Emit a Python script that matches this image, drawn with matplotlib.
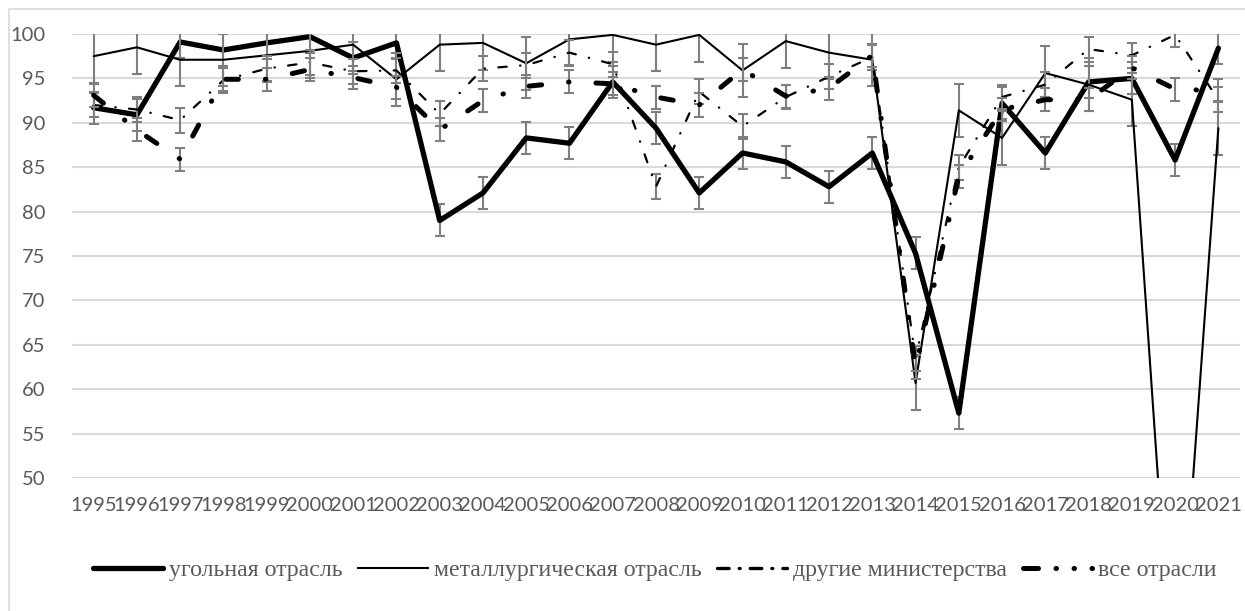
import matplotlib.pyplot as plt
from matplotlib.lines import Line2D
from matplotlib.patches import Rectangle

years = [str(y) for y in range(1995, 2022)]

coal = [91.7, 90.9, 99.1, 98.2, 99.0, 99.7, 97.3, 99.0, 79.0, 82.1, 88.3, 87.7, 94.6, 89.4,
        82.1, 86.6, 85.6, 82.8, 86.6, 75.3, 57.3, 92.2, 86.6, 94.6, 95.0, 85.8, 98.4]
metal = [97.5, 98.5, 97.1, 97.1, 97.6, 98.1, 98.8, 94.9, 98.8, 99.0, 96.7, 99.4, 99.9, 98.8,
         99.9, 95.9, 99.2, 97.9, 97.1, 60.7, 91.4, 88.3, 95.6, 94.3, 92.6, 22.0, 89.4]
other = [92.0, 91.5, 90.3, 94.8, 96.1, 96.8, 95.8, 95.9, 91.0, 96.1, 96.5, 97.9, 96.6, 82.8,
         93.5, 89.6, 92.9, 95.2, 97.4, 63.5, 85.0, 92.9, 94.3, 98.3, 97.6, 99.9, 92.6]
all_ind = [93.1, 89.2, 85.9, 94.9, 94.9, 96.0, 95.1, 94.0, 89.2, 92.5, 94.1, 94.6, 94.4, 92.9,
           92.0, 96.0, 93.0, 93.9, 97.6, 62.5, 84.0, 91.5, 92.6, 92.6, 96.2, 93.8, 93.6]

err_coal = 1.8
err_metal = 3.0
err_other = 1.4
err_all = 1.3

labels = ["угольная отрасль", "металлургическая отрасль", "другие министерства", "все отрасли"]

fig = plt.figure(figsize=(12.45, 6.11), dpi=100)
ax = fig.add_axes([72 / 1245, 1 - 478 / 611, 1168 / 1245, 444 / 611])

x = list(range(len(years)))
ecol = "#7f7f7f"

# series: data, error, linewidth, dash pattern
series = [
    (coal, err_coal, 3.8, None),
    (metal, err_metal, 1.5, None),
    (other, err_other, 1.6, (0, (3.8, 6, 0.2, 6))),
    (all_ind, err_all, 3.6, (0, (2.5, 5.4, 0.1, 5.4))),
]

for i, (vals, err, lw, ls) in enumerate(series):
    ax.errorbar(x, vals, yerr=err, fmt="none", ecolor=ecol, elinewidth=1.5,
                capsize=3.3, capthick=1.5, zorder=2 + i)
    line, = ax.plot(x, vals, color="black", lw=lw, zorder=3 + i,
                    solid_capstyle="round", solid_joinstyle="round",
                    dash_capstyle="round", dash_joinstyle="round")
    if ls is not None:
        line.set_linestyle(ls)

ax.set_xlim(-0.5, len(years) - 0.5)
ax.set_ylim(50, 100)
ax.set_yticks(range(50, 101, 5))
ax.set_xticks(x)
ax.set_xticklabels(years)
ax.grid(axis="y", color="#d9d9d9", lw=1.5)
ax.set_axisbelow(True)
for s in ax.spines.values():
    s.set_visible(False)
ax.tick_params(length=0, labelsize=14.5, colors="#595959")
ax.tick_params(axis="x", pad=14)
ax.tick_params(axis="y", pad=19)
for t in ax.get_xticklabels() + ax.get_yticklabels():
    t.set_family("Lato")

# outer chart border
fig.patches.append(Rectangle((9 / 1245, -0.05), 1.1, 1 - 9 / 611 + 0.05,
                             transform=fig.transFigure, fill=False,
                             edgecolor="#d9d9d9", lw=1.2))

handles = [
    Line2D([], [], color="black", lw=3.8, solid_capstyle="round"),
    Line2D([], [], color="black", lw=1.5),
    Line2D([], [], color="black", lw=2.4, linestyle=(0, (3.5, 3, 0.3, 3)), dash_capstyle="round"),
    Line2D([], [], color="black", lw=3.6, linestyle=(0, (3.0, 3.5, 0.1, 3.5, 0.1, 3.5)),
           dash_capstyle="round"),
]
leg = fig.legend(handles, labels, loc="center", bbox_to_anchor=(0.526, 1 - 570 / 611), ncol=4,
                 frameon=False, handlelength=2.9, handletextpad=0.25, columnspacing=0.67,
                 prop={"family": "Liberation Serif", "size": 17.2})
for t in leg.get_texts():
    t.set_color("#595959")

fig.savefig("out.png", dpi=100)
